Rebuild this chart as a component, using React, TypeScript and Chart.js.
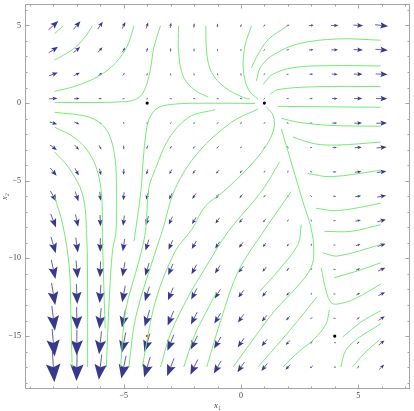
import React, { useEffect, useRef } from 'react';
import { Chart, registerables } from 'chart.js';

Chart.register(...registerables);

// Vector-field sample grid
const xGrid = [-8, -7, -6, -5, -4, -3, -2, -1, 0, 1, 2, 3, 4, 5, 6];
const yGrid = [5, 3.43, 1.86, 0.29, -1.29, -2.86, -4.43, -6, -7.57, -9.14, -10.71, -12.29, -13.86, -15.43, -17];

// Horizontal (x1) component of each arrow, one row per yGrid value
const arrowU = [
  [44, 32, 22, 14, 8, 4, 2, 2, 4, 8, 14, 22, 32, 44, 58],
  [41.5, 29.5, 19.5, 11.5, 5.5, 1.5, -0.5, -0.5, 1.5, 5.5, 11.5, 19.5, 29.5, 41.5, 55.5],
  [39, 27, 17, 9, 3, -1, -3, -3, -1, 3, 9, 17, 27, 39, 53],
  [36.5, 24.5, 14.5, 6.5, 0.5, -3.5, -5.5, -5.5, -3.5, 0.5, 6.5, 14.5, 24.5, 36.5, 50.5],
  [33.9, 21.9, 11.9, 3.9, -2.1, -6.1, -8.1, -8.1, -6.1, -2.1, 3.9, 11.9, 21.9, 33.9, 47.9],
  [31.4, 19.4, 9.4, 1.4, -4.6, -8.6, -10.6, -10.6, -8.6, -4.6, 1.4, 9.4, 19.4, 31.4, 45.4],
  [28.9, 16.9, 6.9, -1.1, -7.1, -11.1, -13.1, -13.1, -11.1, -7.1, -1.1, 6.9, 16.9, 28.9, 42.9],
  [26.4, 14.4, 4.4, -3.6, -9.6, -13.6, -15.6, -15.6, -13.6, -9.6, -3.6, 4.4, 14.4, 26.4, 40.4],
  [23.9, 11.9, 1.9, -6.1, -12.1, -16.1, -18.1, -18.1, -16.1, -12.1, -6.1, 1.9, 11.9, 23.9, 37.9],
  [21.4, 9.4, -0.6, -8.6, -14.6, -18.6, -20.6, -20.6, -18.6, -14.6, -8.6, -0.6, 9.4, 21.4, 35.4],
  [18.9, 6.9, -3.1, -11.1, -17.1, -21.1, -23.1, -23.1, -21.1, -17.1, -11.1, -3.1, 6.9, 18.9, 32.9],
  [16.3, 4.3, -5.7, -13.7, -19.7, -23.7, -25.7, -25.7, -23.7, -19.7, -13.7, -5.7, 4.3, 16.3, 30.3],
  [13.8, 1.8, -8.2, -16.2, -22.2, -26.2, -28.2, -28.2, -26.2, -22.2, -16.2, -8.2, 1.8, 13.8, 27.8],
  [11.3, -0.7, -10.7, -18.7, -24.7, -28.7, -30.7, -30.7, -28.7, -24.7, -18.7, -10.7, -0.7, 11.3, 25.3],
  [8.8, -3.2, -13.2, -21.2, -27.2, -31.2, -33.2, -33.2, -31.2, -27.2, -21.2, -13.2, -3.2, 8.8, 22.8],
];

// Vertical (x2) component of each arrow
const arrowV = [
  [60, 55, 50, 45, 40, 35, 30, 25, 20, 15, 10, 5, 0, -5, -10],
  [41.2, 37.7, 34.3, 30.9, 27.4, 24, 20.6, 17.1, 13.7, 10.3, 6.9, 3.4, 0, -3.4, -6.9],
  [22.3, 20.4, 18.6, 16.7, 14.9, 13, 11.2, 9.3, 7.4, 5.6, 3.7, 1.9, 0, -1.9, -3.7],
  [3.4, 3.1, 2.9, 2.6, 2.3, 2, 1.7, 1.4, 1.1, 0.9, 0.6, 0.3, 0, -0.3, -0.6],
  [-15.4, -14.1, -12.9, -11.6, -10.3, -9, -7.7, -6.4, -5.1, -3.9, -2.6, -1.3, 0, 1.3, 2.6],
  [-34.3, -31.4, -28.6, -25.7, -22.9, -20, -17.1, -14.3, -11.4, -8.6, -5.7, -2.9, 0, 2.9, 5.7],
  [-53.1, -48.7, -44.3, -39.9, -35.4, -31, -26.6, -22.1, -17.7, -13.3, -8.9, -4.4, 0, 4.4, 8.9],
  [-72, -66, -60, -54, -48, -42, -36, -30, -24, -18, -12, -6, 0, 6, 12],
  [-90.8, -83.3, -75.7, -68.1, -60.6, -53, -45.4, -37.9, -30.3, -22.7, -15.1, -7.6, 0, 7.6, 15.1],
  [-109.7, -100.5, -91.4, -82.3, -73.1, -64, -54.8, -45.7, -36.6, -27.4, -18.3, -9.1, 0, 9.1, 18.3],
  [-128.6, -117.9, -107.1, -96.4, -85.7, -75, -64.3, -53.6, -42.9, -32.1, -21.4, -10.7, 0, 10.7, 21.4],
  [-147.4, -135.1, -122.9, -110.6, -98.3, -86, -73.7, -61.4, -49.1, -36.9, -24.6, -12.3, 0, 12.3, 24.6],
  [-166.3, -152.4, -138.6, -124.7, -110.9, -97, -83.1, -69.3, -55.4, -41.6, -27.7, -13.9, 0, 13.9, 27.7],
  [-185.1, -169.7, -154.3, -138.9, -123.4, -108, -92.6, -77.1, -61.7, -46.3, -30.9, -15.4, 0, 15.4, 30.9],
  [-204, -187, -170, -153, -136, -119, -102, -85, -68, -51, -34, -17, 0, 17, 34],
];

// Stream lines, as (x1, x2) points
const streamlines: number[][][] = [
  [[-7.95, 4.47], [-7.6, 4.94]],
  [[-7.95, 2.77], [-7.18, 3.45], [-6.68, 4.2], [-6.33, 4.98]],
  [[-7.95, 0.75], [-7.03, 1.11], [-6.05, 1.75], [-5.34, 2.6], [-4.85, 3.67], [-4.56, 4.98]],
  [[-7.95, 0.04], [-4.92, 0.09], [-4.35, 0.36], [-4.07, 1.0], [-3.86, 2.17], [-3.72, 3.56], [-3.43, 4.98]],
  [[-2.66, 4.98], [-2.66, 3.24], [-2.44, 1.64], [-1.94, 0.81], [-1.39, 0.38]],
  [[-1.5, 4.98], [-1.46, 3.24], [-1.25, 1.96], [-0.68, 1.0], [0.1, 0.36], [0.38, 0.26]],
  [[0.45, 4.98], [0.17, 3.67], [0.1, 2.17], [0.31, 0.89], [0.73, 0.24]],
  [[2.0, 4.98], [1.16, 4.09], [0.65, 2.92], [0.45, 2.28]],
  [[0.66, 1.43], [0.82, 2.28], [1.3, 3.03], [2.43, 3.81], [4.12, 4.13], [5.96, 4.05]],
  [[0.94, 1.19], [1.33, 1.83], [2.22, 2.28], [3.83, 2.41], [5.96, 2.39]],
  [[1.23, 0.57], [1.58, 0.87], [3.14, 1.05], [5.96, 1.07]],
  [[1.58, -0.21], [5.96, -0.27]],
  [[1.72, -0.98], [2.43, -1.23], [3.84, -1.44], [5.96, -1.49]],
  [[2.22, -2.19], [3.14, -2.62], [4.12, -2.7], [5.96, -2.51]],
  [[2.85, -4.53], [3.84, -4.74], [5.96, -4.32]],
  [[3.2, -6.77], [4.12, -6.93], [5.96, -6.45]],
  [[3.56, -8.26], [4.69, -8.26], [5.96, -7.83]],
  [[3.49, -9.64], [4.12, -9.85], [5.96, -9.11]],
  [[3.98, -11.24], [4.97, -10.81], [5.96, -10.28]],
  [[3.42, -10.6], [3.63, -12.09], [3.84, -12.84], [4.12, -12.94], [4.83, -12.62], [5.96, -11.66]],
  [[4.33, -15.07], [5.11, -14.11], [5.96, -13.37]],
  [[4.26, -16.99], [4.47, -15.92], [4.97, -15.17], [5.96, -14.21]],
  [[4.76, -16.99], [5.25, -16.13], [5.96, -15.17]],
  [[3.77, -13.32], [3.63, -14.21], [3.14, -15.17], [2.43, -16.05], [1.79, -16.99]],
  [[3.25, -12.47], [2.43, -14.0], [1.72, -15.28], [0.73, -16.99]],
  [[1.72, -1.66], [2.14, -3.79], [2.64, -6.34], [2.99, -8.05], [3.11, -9.53], [2.99, -10.6], [2.43, -11.77], [1.44, -13.37], [0.59, -15.07], [-0.33, -16.99]],
  [[2.57, -7.83], [2.43, -9.11], [1.58, -10.81], [0.82, -12.09]],
  [[2.14, -5.7], [0.87, -8.47], [-0.11, -10.81], [-0.82, -13.79], [-1.46, -16.99]],
  [[-1.05, -12.22], [-1.52, -13.56], [-1.98, -14.96], [-2.44, -16.99]],
  [[1.65, -3.79], [0.87, -5.7], [-0.54, -8.26], [-1.6, -10.81], [-2.23, -12.41], [-3.0, -14.83], [-3.43, -16.99]],
  [[1.07, -0.21], [1.37, -0.79], [1.41, -1.62], [1.07, -2.76], [0.31, -4.17], [-0.75, -5.7], [-1.53, -6.66], [-2.09, -8.13], [-2.8, -9.53], [-3.64, -12.73], [-4.21, -16.99]],
  [[0.73, -0.38], [-0.4, -1.23], [-1.81, -3.15], [-2.8, -5.49], [-3.36, -8.26], [-3.64, -9.53], [-4.49, -13.79], [-4.78, -16.99]],
  [[-1.1, -0.42], [-2.23, -0.91], [-3.08, -2.3], [-3.64, -4.21], [-3.93, -5.49], [-4.07, -8.26], [-4.35, -10.17], [-4.92, -13.37], [-5.13, -16.99]],
  [[0.61, -0.02], [-1.81, -0.01], [-2.78, -0.06], [-3.5, -0.27], [-3.84, -0.79], [-4.01, -1.55], [-4.14, -3.15], [-4.27, -5.7], [-4.56, -8.9]],
  [[-7.95, -0.59], [-6.47, -0.91], [-5.76, -1.66], [-5.41, -3.15], [-5.31, -5.26], [-5.33, -8.26], [-5.48, -9.53], [-5.62, -12.73], [-5.74, -16.99]],
  [[-7.95, -1.55], [-7.03, -2.3], [-6.33, -3.58], [-5.97, -5.49], [-5.91, -8.47], [-5.83, -12.73], [-5.79, -14.51]],
  [[-7.95, -3.15], [-7.32, -4.21], [-6.75, -5.91], [-6.58, -8.47], [-6.54, -12.73], [-6.54, -16.99]],
  [[-7.95, -6.02], [-7.6, -7.83], [-7.32, -10.6], [-7.25, -13.79], [-7.2, -16.99]],
];

const equilibria = [[-4, 0], [1, 0], [4, -15]];
const markedPoint = [[-4, -15]];

const xMajorTicks = [-5, 0, 5];
const yMajorTicks = [-15, -10, -5, 0, 5];
const xMinorTicks = [-9, -8, -7, -6, -5, -4, -3, -2, -1, 0, 1, 2, 3, 4, 5, 6, 7];
const yMinorTicks = [-18, -17, -16, -15, -14, -13, -12, -11, -10, -9, -8, -7, -6, -5, -4, -3, -2, -1, 0, 1, 2, 3, 4, 5, 6];
const xTitle = 'x\u2081';
const yTitle = 'x\u2082';

const ARROW_COLOR = 'rgb(56,56,140)';
const STREAM_COLOR = 'rgb(118,234,118)';
const FRAME_COLOR = '#a4a4a4';
const LABEL_COLOR = '#444';
const ARROW_SCALE = 0.0095;

const fmt = (v: number) => (v < 0 ? '\u2212' + Math.abs(v) : String(v));

const fieldPlugin = {
  id: 'vectorField',
  beforeDatasetsDraw(chart: any) {
    const { ctx, chartArea } = chart;
    const xs = chart.scales.x;
    const ys = chart.scales.y;
    const sx = Math.abs(xs.getPixelForValue(1) - xs.getPixelForValue(0));
    const sy = Math.abs(ys.getPixelForValue(0) - ys.getPixelForValue(1));
    ctx.save();
    ctx.beginPath();
    ctx.rect(chartArea.left, chartArea.top, chartArea.right - chartArea.left, chartArea.bottom - chartArea.top);
    ctx.clip();
    yGrid.forEach((gy, r) => {
      xGrid.forEach((gx, c) => {
        const u = arrowU[r][c];
        const v = arrowV[r][c];
        const dxp = u * sx;
        const dyp = -v * sy;
        const mag = Math.hypot(dxp, dyp);
        if (mag === 0) return;
        const L = Math.max(ARROW_SCALE * mag * (23.6 / sx), 2.4);
        const ux = dxp / mag;
        const uy = dyp / mag;
        const cx = xs.getPixelForValue(gx);
        const cy = ys.getPixelForValue(gy);
        const tipX = cx + (ux * L) / 2;
        const tipY = cy + (uy * L) / 2;
        const tailX = cx - (ux * L) / 2;
        const tailY = cy - (uy * L) / 2;
        const hl = 0.6 * L;
        const hw = 0.24 * L;
        const bx = tipX - ux * hl;
        const by = tipY - uy * hl;
        const nx = tipX - ux * hl * 0.82;
        const ny = tipY - uy * hl * 0.82;
        ctx.strokeStyle = ARROW_COLOR;
        ctx.lineWidth = 0.8;
        ctx.beginPath();
        ctx.moveTo(tailX, tailY);
        ctx.lineTo(nx, ny);
        ctx.stroke();
        ctx.fillStyle = ARROW_COLOR;
        ctx.beginPath();
        ctx.moveTo(tipX, tipY);
        ctx.lineTo(bx - uy * hw, by + ux * hw);
        ctx.lineTo(nx, ny);
        ctx.lineTo(bx + uy * hw, by - ux * hw);
        ctx.closePath();
        ctx.fill();
      });
    });
    ctx.restore();
  },
  afterDraw(chart: any) {
    const { ctx, chartArea } = chart;
    const xs = chart.scales.x;
    const ys = chart.scales.y;
    const { left, right, top, bottom } = chartArea;
    ctx.save();
    ctx.strokeStyle = FRAME_COLOR;
    ctx.lineWidth = 1;
    ctx.strokeRect(left + 0.5, top + 0.5, right - left - 1, bottom - top - 1);
    ctx.beginPath();
    xMinorTicks.forEach((t) => {
      const p = Math.round(xs.getPixelForValue(t)) + 0.5;
      const len = xMajorTicks.includes(t) ? 4.5 : 2.5;
      ctx.moveTo(p, bottom);
      ctx.lineTo(p, bottom - len);
      ctx.moveTo(p, top);
      ctx.lineTo(p, top + len);
    });
    yMinorTicks.forEach((t) => {
      const p = Math.round(ys.getPixelForValue(t)) + 0.5;
      const len = yMajorTicks.includes(t) ? 4.5 : 2.5;
      ctx.moveTo(left, p);
      ctx.lineTo(left + len, p);
      ctx.moveTo(right, p);
      ctx.lineTo(right - len, p);
    });
    ctx.stroke();
    ctx.restore();
  },
};

export default function App() {
  const canvasRef = useRef<HTMLCanvasElement | null>(null);

  useEffect(() => {
    if (!canvasRef.current) return;
    const lineSets = streamlines.map((line) => ({
      data: line.map(([x, y]) => ({ x, y })),
      showLine: true,
      borderColor: STREAM_COLOR,
      borderWidth: 1,
      pointRadius: 0,
      tension: 0.35,
      fill: false,
    }));
    const chart = new Chart(canvasRef.current, {
      type: 'scatter',
      data: {
        datasets: [
          ...lineSets,
          {
            data: equilibria.map(([x, y]) => ({ x, y })),
            pointRadius: 1.6,
            pointBackgroundColor: '#000',
            pointBorderWidth: 0,
            showLine: false,
          },
          {
            data: markedPoint.map(([x, y]) => ({ x, y })),
            pointRadius: 1.4,
            pointBackgroundColor: '#ff2a2a',
            pointBorderWidth: 0,
            showLine: false,
          },
        ] as any,
      },
      options: {
        animation: false,
        responsive: false,
        devicePixelRatio: 1,
        layout: { padding: { left: 0, right: 1, top: 1, bottom: 0 } },
        plugins: { legend: { display: false }, tooltip: { enabled: false } },
        scales: {
          x: {
            type: 'linear',
            min: -9.21,
            max: 7.21,
            bounds: 'data',
            position: 'bottom',
            afterBuildTicks: (s: any) => {
              s.ticks = xMajorTicks.map((v) => ({ value: v }));
            },
            afterFit: (s: any) => {
              s.height = 22;
              s.paddingLeft = 0;
              s.paddingRight = 0;
            },
            grid: { display: false, drawTicks: false },
            border: { display: false },
            ticks: {
              autoSkip: false,
              maxRotation: 0,
              padding: 2,
              color: LABEL_COLOR,
              font: { family: 'Liberation Serif', size: 8 },
              callback: (v: any) => fmt(Number(v)),
            },
            title: {
              display: true,
              text: xTitle,
              color: LABEL_COLOR,
              padding: { top: 0, bottom: 0 },
              font: { family: 'Liberation Serif', size: 8, style: 'italic' },
            },
          },
          y: {
            type: 'linear',
            min: -18.41,
            max: 6.38,
            bounds: 'data',
            position: 'left',
            afterBuildTicks: (s: any) => {
              s.ticks = yMajorTicks.map((v) => ({ value: v }));
            },
            afterFit: (s: any) => {
              s.width = 25;
              s.paddingTop = 0;
              s.paddingBottom = 0;
            },
            grid: { display: false, drawTicks: false },
            border: { display: false },
            ticks: {
              autoSkip: false,
              padding: 4,
              color: LABEL_COLOR,
              font: { family: 'Liberation Serif', size: 8 },
              callback: (v: any) => fmt(Number(v)),
            },
            title: {
              display: true,
              text: yTitle,
              color: LABEL_COLOR,
              padding: { top: 0, bottom: 0 },
              font: { family: 'Liberation Serif', size: 8, style: 'italic' },
            },
          },
        },
      } as any,
      plugins: [fieldPlugin],
    });
    return () => chart.destroy();
  }, []);

  return (
    <div style={{ position: 'absolute', left: 0, top: 0, width: 414, height: 411, background: '#fff' }}>
      <canvas ref={canvasRef} width={414} height={411} style={{ display: 'block' }} />
    </div>
  );
}
